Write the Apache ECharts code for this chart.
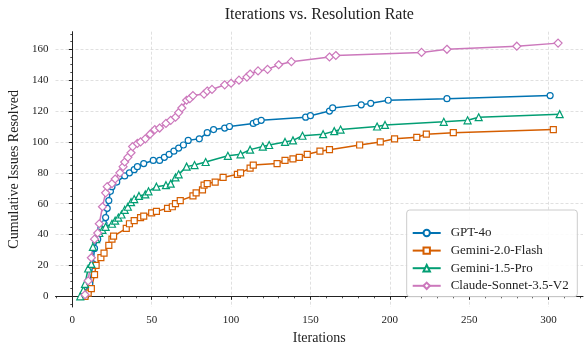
<!DOCTYPE html>
<html>
<head>
<meta charset="utf-8">
<script src="https://cdn.jsdelivr.net/npm/echarts@6/dist/echarts.min.js"></script>
<style>
html,body{margin:0;padding:0;background:#fff;}
#chart{width:585px;height:342px;}
</style>
</head>
<body>
<div id="chart"></div>
<script>
// ---- data (x = iteration, y = cumulative issues resolved) ----
const seriesNames = ['GPT-4o', 'Gemini-2.0-Flash', 'Gemini-1.5-Pro', 'Claude-Sonnet-3.5-V2'];

const gpt4o = [[8,0],[10,3],[11,8],[13,21],[14,31],[16,37],[18,44],[20,47],[21,51],[22,57],[23,62],[24,68],[25,71],[28,74],[33,78],[36,80],[39,82],[41,84],[45,86],[51,88],[55,88],[58,90],[61,92],[64,94],[67,96],[70,98],[73,101],[80,102],[85,106],[89,108],[96,109],[99,110],[114,112],[116,113],[119,114],[147,116],[150,117],[162,120],[164,122],[182,124],[188,125],[199,127],[236,128],[301,130]];

const gemini20 = [[8,0],[10,2],[12,5],[14,14],[15,20],[18,25],[20,28],[23,33],[25,37],[26,39],[34,44],[36,47],[39,49],[43,51],[45,52],[50,54],[53,55],[60,57],[63,58],[65,60],[68,62],[76,65],[78,67],[82,69],[83,72],[85,73],[90,74],[95,77],[104,79],[106,80],[112,83],[114,85],[129,86],[134,88],[139,89],[143,90],[148,92],[156,94],[162,95],[181,98],[194,100],[203,102],[217,103],[223,105],[240,106],[303,108]];

const gemini15 = [[5,0],[7,4],[8,8],[10,18],[12,21],[13,32],[15,37],[17,41],[19,43],[21,45],[25,47],[27,49],[29,51],[31,53],[33,56],[35,58],[37,61],[39,63],[42,65],[46,66],[48,68],[53,71],[59,72],[62,73],[65,77],[67,79],[72,84],[77,85],[84,87],[98,91],[106,92],[112,95],[120,97],[124,98],[134,100],[139,101],[145,104],[158,105],[165,107],[169,108],[192,110],[197,111],[234,113],[249,114],[256,116],[307,118]];

const claude = [[8,1],[10,10],[12,25],[14,37],[16,41],[17,47],[19,58],[21,67],[22,71],[25,73],[27,76],[30,80],[32,84],[33,87],[35,90],[37,93],[38,97],[41,99],[43,100],[46,102],[49,105],[52,108],[55,109],[59,112],[62,114],[65,116],[67,119],[69,122],[72,127],[74,128],[76,130],[83,131],[85,133],[88,134],[96,137],[100,138],[105,140],[110,142],[112,144],[117,146],[123,147],[130,150],[138,152],[162,155],[166,156],[220,158],[236,160],[280,162],[306,164]];

const xTicks = [0,50,100,150,200,250,300];
const xMinorTicks = [-10,0,10,20,30,40,50,60,70,80,90,100,110,120,130,140,150,160,170,180,190,200,210,220,230,240,250,260,270,280,290,300,310,320];
const yTicks = [0,20,40,60,80,100,120,140,160];
const yMinorTicks = [-5,0,5,10,15,20,25,30,35,40,45,50,55,60,65,70,75,80,85,90,95,100,105,110,115,120,125,130,135,140,145,150,155,160,165,170];

const titleText = 'Iterations vs. Resolution Rate';
const xName = 'Iterations';
const yName = 'Cumulative Issues Resolved';

// ---- styling ----
const colors = ['#0173b2', '#d55e00', '#029e73', '#cc78bc'];
const symbols = ['circle', 'rect', 'triangle', 'diamond'];
const symbolSizes = [6, 6, 7, 8];
const FONT = '"Liberation Serif", "DejaVu Serif", serif';
const TXT = '#222';

const xMin = -10.58, xMax = 321.7, yMin = -6.93, yMax = 171.4;

const allData = [gpt4o, gemini20, gemini15, claude];

const chart = echarts.init(document.getElementById('chart'), null, {renderer: 'canvas'});

const axisCommon = {
  axisLine: {show: true, lineStyle: {color: TXT, width: 1}},
  nameTextStyle: {fontFamily: FONT, fontSize: 14, color: TXT},
};

const option = {
  animation: false,
  backgroundColor: '#fff',
  title: {
    text: titleText,
    left: 319.3,
    top: 7,
    textAlign: 'center',
    padding: 0,
    textStyle: {fontFamily: FONT, fontSize: 16, fontWeight: 'normal', color: TXT}
  },
  grid: {left: 55.5, right: 2, top: 31.7, bottom: 35, containLabel: false, outerBoundsMode: 'none'},
  xAxis: [
    Object.assign({}, axisCommon, {
      type: 'value', min: xMin, max: xMax, position: 'bottom',
      name: xName, nameLocation: 'middle', nameGap: 18,
      axisTick: {show: true, customValues: xTicks, length: 3.5, lineStyle: {color: TXT, width: 1}},
      axisLabel: {show: true, customValues: xTicks, margin: 8, fontFamily: FONT, fontSize: 11, color: TXT},
      splitLine: {show: true, lineStyle: {color: '#d8d8d8', width: 0.8, type: [3, 2]}}
    }),
    {
      type: 'value', min: xMin, max: xMax, position: 'bottom',
      axisLine: {show: false},
      axisTick: {show: true, customValues: xMinorTicks, length: 2, lineStyle: {color: TXT, width: 0.8}},
      axisLabel: {show: false},
      splitLine: {show: false}
    }
  ],
  yAxis: [
    Object.assign({}, axisCommon, {
      type: 'value', min: yMin, max: yMax, position: 'left',
      name: yName, nameLocation: 'middle', nameGap: 30,
      axisTick: {show: true, customValues: yTicks, length: 3.5, lineStyle: {color: TXT, width: 1}},
      axisLabel: {show: true, customValues: yTicks, margin: 7, fontFamily: FONT, fontSize: 11, color: TXT},
      splitLine: {show: true, lineStyle: {color: '#d8d8d8', width: 0.8, type: [3, 2]}}
    }),
    {
      type: 'value', min: yMin, max: yMax, position: 'left',
      axisLine: {show: false},
      axisTick: {show: true, customValues: yMinorTicks, length: 2, lineStyle: {color: TXT, width: 0.8}},
      axisLabel: {show: false},
      splitLine: {show: false}
    }
  ],
  legend: {
    orient: 'vertical',
    left: 411.7,
    top: 226.5,
    padding: 0,
    itemWidth: 28,
    itemHeight: 8,
    itemGap: 4.6,
    z: 12,
    textStyle: {fontFamily: FONT, fontSize: 13, color: TXT, padding: [0, 0, 0, 5]},
    data: seriesNames
  },
  graphic: [{
    type: 'rect',
    z: 11,
    shape: {x: 406.7, y: 210, width: 170.6, height: 86.7, r: 3},
    style: {fill: 'rgba(255,255,255,0.85)', stroke: '#cccccc', lineWidth: 1}
  }],
  series: seriesNames.map((name, i) => ({
    name: name,
    type: 'line',
    xAxisIndex: 0,
    yAxisIndex: 0,
    data: allData[i],
    symbol: symbols[i],
    symbolSize: symbolSizes[i],
    showAllSymbol: true,
    clip: false,
    lineStyle: {color: colors[i], width: 1.5},
    itemStyle: {color: '#ffffff', borderColor: colors[i], borderWidth: 1.2},
    emphasis: {disabled: true}
  }))
};

chart.setOption(option);
</script>
</body>
</html>
